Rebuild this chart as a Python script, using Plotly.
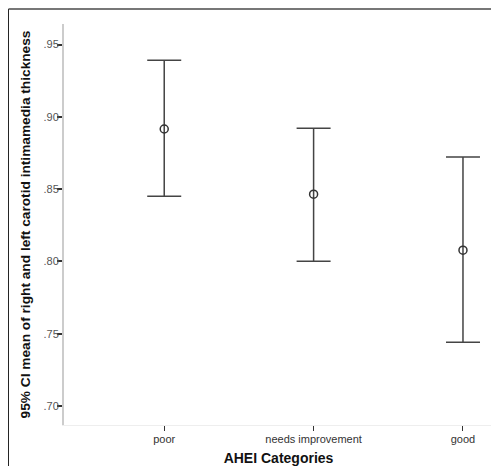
import plotly.graph_objects as go

categories = ["poor", "needs improvement", "good"]
means = [0.8916, 0.8465, 0.8078]
upper = [0.9391, 0.8921, 0.8722]
lower = [0.8451, 0.8001, 0.7441]
y_ticks = [0.70, 0.75, 0.80, 0.85, 0.90, 0.95]
y_tick_labels = [".70", ".75", ".80", ".85", ".90", ".95"]

x_pos = list(range(len(categories)))
err_plus = [u - m for u, m in zip(upper, means)]
err_minus = [m - l for m, l in zip(means, lower)]

fig = go.Figure()
fig.add_trace(go.Scatter(
    x=x_pos, y=means, mode="markers",
    marker=dict(symbol="circle-open", size=8, color="#333333", line=dict(width=1.5, color="#333333")),
    error_y=dict(type="data", symmetric=False, array=err_plus, arrayminus=err_minus,
                 color="#444444", thickness=1.5, width=17),
    showlegend=False, hoverinfo="skip",
))

font_family = "Liberation Sans, Arial, sans-serif"

# the page adds an 8px body margin; the figure is shrunk/shifted to fit the window
fig.update_layout(
    width=491, height=458,
    margin=dict(l=56, r=6, t=16, b=41),
    paper_bgcolor="white", plot_bgcolor="white",
    font=dict(family=font_family, size=11, color="#333333"),
    xaxis=dict(
        range=[-0.671, 2.201], tickmode="array", tickvals=x_pos, ticktext=categories,
        showgrid=False, zeroline=False, showline=True, linecolor="#eeeeee", linewidth=1,
        ticks="outside", ticklen=5, tickcolor="#333333", tickwidth=1,
        tickfont=dict(size=11, color="#333333"), ticklabelstandoff=-1, automargin=False,
        title=dict(text="<b>AHEI Categories</b>", font=dict(size=14, color="#111111"), standoff=12),
    ),
    yaxis=dict(
        range=[0.6869, 0.9642], tickmode="array", tickvals=y_ticks, ticktext=y_tick_labels,
        showgrid=False, zeroline=False, showline=True, linecolor="#cccccc", linewidth=2,
        ticks="outside", ticklen=5, tickcolor="#333333", tickwidth=1.5,
        tickfont=dict(size=11, color="#555555"), ticklabelstandoff=-4, automargin=False,
        title=dict(text="<b>95% CI mean of right and left carotid intimamedia thickness</b>",
                   font=dict(size=13.7, color="#111111"), standoff=10),
    ),
    shapes=[
        dict(type="line", xref="paper", yref="paper", x0=-0.1294, x1=1.05, y0=1.0372, y1=1.0372,
             line=dict(color="#777777", width=2)),
        dict(type="line", xref="paper", yref="paper", x0=-0.1294, x1=-0.1294, y0=1.0372, y1=-0.2,
             line=dict(color="#222222", width=1)),
    ],
)

fig.write_html("out.html")
